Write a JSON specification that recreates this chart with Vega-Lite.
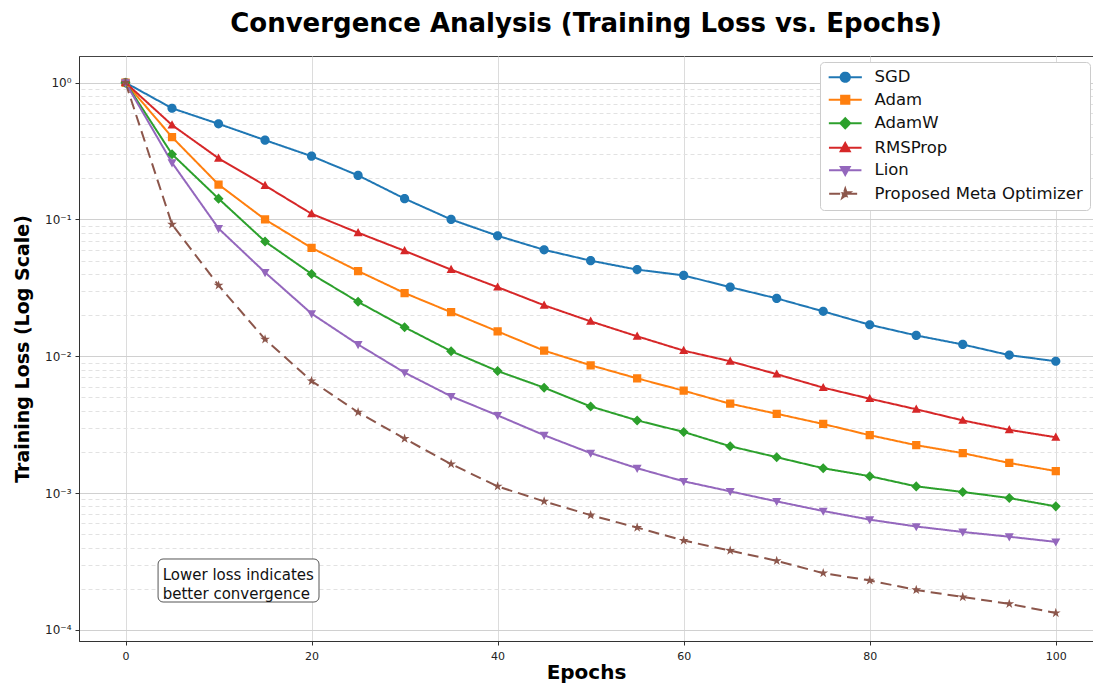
{
  "$schema": "https://vega.github.io/schema/vega-lite/v6.json",
  "width": 1014,
  "height": 585,
  "autosize": {"type": "none"},
  "padding": {"left": 79, "top": 56, "right": 0, "bottom": 42},
  "background": "white",
  "config": {
    "font": "DejaVu Sans",
    "view": {"stroke": "#444", "strokeWidth": 1},
    "axis": {"labelFont": "DejaVu Sans", "titleFont": "DejaVu Sans", "labelColor": "#222", "titleColor": "#000", "tickColor": "#333", "domainColor": "#333"}
  },
  "title": {"text": "Convergence Analysis (Training Loss vs. Epochs)", "fontSize": 26, "fontWeight": "bold", "font": "DejaVu Sans", "color": "#000", "anchor": "middle", "offset": 19},
  "data": {"values": [
    {"epoch": 0, "SGD": 1, "Adam": 1, "AdamW": 1, "RMSProp": 1, "Lion": 1, "Proposed Meta Optimizer": 1},
    {"epoch": 5, "SGD": 0.65, "Adam": 0.40, "AdamW": 0.30, "RMSProp": 0.49, "Lion": 0.26, "Proposed Meta Optimizer": 0.092},
    {"epoch": 10, "SGD": 0.50, "Adam": 0.18, "AdamW": 0.142, "RMSProp": 0.28, "Lion": 0.086, "Proposed Meta Optimizer": 0.033},
    {"epoch": 15, "SGD": 0.38, "Adam": 0.10, "AdamW": 0.069, "RMSProp": 0.177, "Lion": 0.041, "Proposed Meta Optimizer": 0.0133},
    {"epoch": 20, "SGD": 0.29, "Adam": 0.062, "AdamW": 0.040, "RMSProp": 0.11, "Lion": 0.0205, "Proposed Meta Optimizer": 0.0066},
    {"epoch": 25, "SGD": 0.21, "Adam": 0.042, "AdamW": 0.025, "RMSProp": 0.080, "Lion": 0.0122, "Proposed Meta Optimizer": 0.0039},
    {"epoch": 30, "SGD": 0.142, "Adam": 0.029, "AdamW": 0.0163, "RMSProp": 0.059, "Lion": 0.0076, "Proposed Meta Optimizer": 0.0025},
    {"epoch": 35, "SGD": 0.10, "Adam": 0.021, "AdamW": 0.0109, "RMSProp": 0.043, "Lion": 0.0051, "Proposed Meta Optimizer": 0.00163},
    {"epoch": 40, "SGD": 0.076, "Adam": 0.0152, "AdamW": 0.0078, "RMSProp": 0.032, "Lion": 0.0037, "Proposed Meta Optimizer": 0.00112},
    {"epoch": 45, "SGD": 0.060, "Adam": 0.011, "AdamW": 0.0059, "RMSProp": 0.0236, "Lion": 0.00265, "Proposed Meta Optimizer": 0.00087},
    {"epoch": 50, "SGD": 0.050, "Adam": 0.0086, "AdamW": 0.0043, "RMSProp": 0.018, "Lion": 0.00196, "Proposed Meta Optimizer": 0.00069},
    {"epoch": 55, "SGD": 0.043, "Adam": 0.0069, "AdamW": 0.0034, "RMSProp": 0.014, "Lion": 0.00152, "Proposed Meta Optimizer": 0.00056},
    {"epoch": 60, "SGD": 0.039, "Adam": 0.0056, "AdamW": 0.0028, "RMSProp": 0.011, "Lion": 0.00122, "Proposed Meta Optimizer": 0.00045},
    {"epoch": 65, "SGD": 0.032, "Adam": 0.0045, "AdamW": 0.0022, "RMSProp": 0.0092, "Lion": 0.00103, "Proposed Meta Optimizer": 0.00038},
    {"epoch": 70, "SGD": 0.0265, "Adam": 0.0038, "AdamW": 0.00183, "RMSProp": 0.0074, "Lion": 0.00087, "Proposed Meta Optimizer": 0.00032},
    {"epoch": 75, "SGD": 0.0213, "Adam": 0.0032, "AdamW": 0.00152, "RMSProp": 0.0059, "Lion": 0.00074, "Proposed Meta Optimizer": 0.00026},
    {"epoch": 80, "SGD": 0.017, "Adam": 0.00265, "AdamW": 0.00133, "RMSProp": 0.0049, "Lion": 0.00064, "Proposed Meta Optimizer": 0.00023},
    {"epoch": 85, "SGD": 0.0142, "Adam": 0.00224, "AdamW": 0.00112, "RMSProp": 0.0041, "Lion": 0.00057, "Proposed Meta Optimizer": 0.000196},
    {"epoch": 90, "SGD": 0.0122, "Adam": 0.00196, "AdamW": 0.00102, "RMSProp": 0.0034, "Lion": 0.00052, "Proposed Meta Optimizer": 0.000174},
    {"epoch": 95, "SGD": 0.0102, "Adam": 0.00166, "AdamW": 0.00092, "RMSProp": 0.0029, "Lion": 0.00048, "Proposed Meta Optimizer": 0.000155},
    {"epoch": 100, "SGD": 0.0092, "Adam": 0.00145, "AdamW": 0.0008, "RMSProp": 0.00256, "Lion": 0.00044, "Proposed Meta Optimizer": 0.000133}
  ]},
  "layer": [
    {
      "transform": [{"fold": ["SGD", "Adam", "AdamW", "RMSProp", "Lion", "Proposed Meta Optimizer"], "as": ["optimizer", "loss"]}],
      "mark": {"type": "line", "strokeCap": "butt"},
      "encoding": {
        "x": {"field": "epoch", "type": "quantitative", "scale": {"domain": [-5, 104], "nice": false, "zero": false},
          "axis": {"values": [0, 20, 40, 60, 80, 100], "title": "Epochs", "titleFontSize": 20, "titleFontWeight": "bold", "labelFontSize": 11, "grid": true, "gridColor": "#dcdcdc", "tickSize": 4, "labelPadding": 5, "titlePadding": 1}},
        "y": {"field": "loss", "type": "quantitative", "scale": {"type": "log", "domain": [0.000083, 1.566], "nice": false},
          "axis": {"values": [0.0001, 0.001, 0.01, 0.1, 1], "labelExpr": "round(log(datum.value)/LN10) == 0 ? '10⁰' : round(log(datum.value)/LN10) == -1 ? '10⁻¹' : round(log(datum.value)/LN10) == -2 ? '10⁻²' : round(log(datum.value)/LN10) == -3 ? '10⁻³' : '10⁻⁴'", "title": "Training Loss (Log Scale)", "titleFontSize": 19, "titleFontWeight": "bold", "labelFontSize": 12, "grid": true, "gridColor": "#d0d0d0", "tickSize": 4, "labelPadding": 4, "titlePadding": 12}},
        "color": {"field": "optimizer", "type": "nominal",
          "scale": {"domain": ["SGD", "Adam", "AdamW", "RMSProp", "Lion", "Proposed Meta Optimizer"], "range": ["#1f77b4", "#ff7f0e", "#2ca02c", "#d62728", "#9467bd", "#8c564b"]},
          "legend": {"orient": "none", "legendX": 741, "legendY": 6, "title": null, "fillColor": "white", "strokeColor": "#cccccc", "padding": 7, "cornerRadius": 4, "labelFontSize": 16.5, "labelFont": "DejaVu Sans", "labelColor": "#111", "labelLimit": 400, "symbolSize": 80, "symbolStrokeWidth": 2, "symbolOffset": 10, "rowPadding": 5.5, "labelOffset": 21}},
        "strokeDash": {"field": "optimizer", "type": "nominal",
          "scale": {"domain": ["SGD", "Adam", "AdamW", "RMSProp", "Lion", "Proposed Meta Optimizer"], "range": [[1, 0], [1, 0], [1, 0], [1, 0], [1, 0], [11, 6]]}},
        "strokeWidth": {"field": "optimizer", "type": "nominal",
          "scale": {"domain": ["SGD", "Adam", "AdamW", "RMSProp", "Lion", "Proposed Meta Optimizer"], "range": [2, 2, 2, 2, 2, 3]}, "legend": null}
      }
    },
    {
      "transform": [{"fold": ["SGD", "Adam", "AdamW", "RMSProp", "Lion", "Proposed Meta Optimizer"], "as": ["optimizer", "loss"]}],
      "mark": {"type": "point", "filled": true, "opacity": 1, "strokeWidth": 0},
      "encoding": {
        "x": {"field": "epoch", "type": "quantitative"},
        "y": {"field": "loss", "type": "quantitative",
          "axis": {"orient": "right", "values": [0.0002, 0.0003, 0.0004, 0.0005, 0.0006, 0.0007, 0.0008, 0.0009, 0.002, 0.003, 0.004, 0.005, 0.006, 0.007, 0.008, 0.009, 0.02, 0.03, 0.04, 0.05, 0.06, 0.07, 0.08, 0.09, 0.2, 0.3, 0.4, 0.5, 0.6, 0.7, 0.8, 0.9], "labels": false, "ticks": false, "domain": false, "title": null, "grid": true, "gridColor": "#e2e2e2", "gridDash": [4, 3]}},
        "color": {"field": "optimizer", "type": "nominal"},
        "shape": {"field": "optimizer", "type": "nominal",
          "scale": {"domain": ["SGD", "Adam", "AdamW", "RMSProp", "Lion", "Proposed Meta Optimizer"], "range": [
            "M1,0A1,1,0,1,1,-1,0A1,1,0,1,1,1,0ZM-3.6,0H3.6",
            "M-0.9,-0.9H0.9V0.9H-0.9ZM-3.6,0H3.6",
            "M0,-1.1L1.1,0L0,1.1L-1.1,0ZM-3.6,0H3.6",
            "M0,-1.05L1,0.75L-1,0.75ZM-3.6,0H3.6",
            "M0,1.05L1,-0.75L-1,-0.75ZM-3.6,0H3.6",
            "M0,-1.15L0.26,-0.355L1.094,-0.355L0.417,0.136L0.676,0.93L0,0.44L-0.676,0.93L-0.417,0.136L-1.094,-0.355L-0.26,-0.355ZM-3.6,0H3.6"]}},
        "size": {"field": "optimizer", "type": "nominal",
          "scale": {"domain": ["SGD", "Adam", "AdamW", "RMSProp", "Lion", "Proposed Meta Optimizer"], "range": [85, 80, 85, 75, 75, 280]}, "legend": null}
      }
    },
    {
      "data": {"values": [{"x": 3.5, "x2": 20.8, "y": 0.00033, "y2": 0.00016}]},
      "mark": {"type": "rect", "fill": "white", "stroke": "#555", "strokeWidth": 1, "cornerRadius": 5},
      "encoding": {
        "x": {"field": "x", "type": "quantitative"},
        "x2": {"field": "x2"},
        "y": {"field": "y", "type": "quantitative", "axis": null},
        "y2": {"field": "y2"}
      }
    },
    {
      "data": {"values": [{"x": 4, "y": 0.000252, "t": ["Lower loss indicates", "better convergence"]}]},
      "mark": {"type": "text", "align": "left", "baseline": "middle", "fontSize": 15, "lineHeight": 19, "font": "DejaVu Sans", "color": "#111"},
      "encoding": {
        "x": {"field": "x", "type": "quantitative"},
        "y": {"field": "y", "type": "quantitative", "axis": null},
        "text": {"field": "t"}
      }
    }
  ],
  "resolve": {"axis": {"y": "independent"}}
}
